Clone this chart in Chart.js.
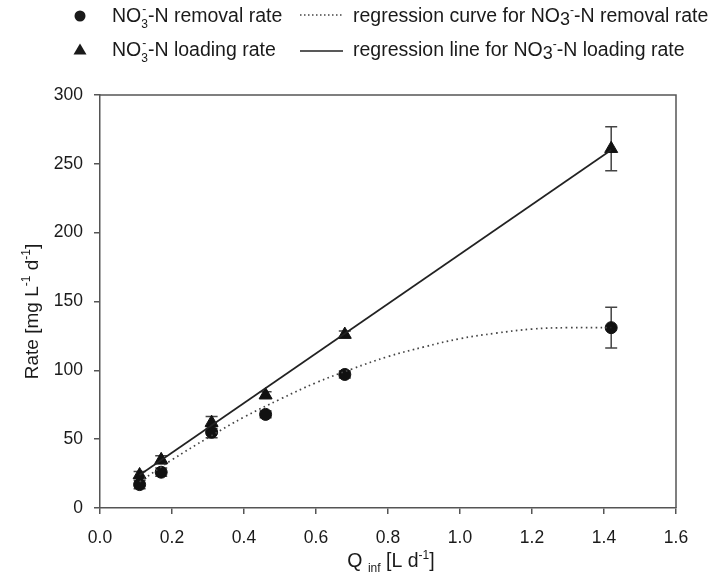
<!DOCTYPE html>
<html>
<head>
<meta charset="utf-8">
<script src="https://cdn.jsdelivr.net/npm/chart.js@4.4.1/dist/chart.umd.min.js"></script>
<style>
  html, body { margin: 0; padding: 0; background: #fff; }
  #wrap { width: 715px; height: 577px; }
</style>
</head>
<body>
<div id="wrap"><canvas id="chart" width="715" height="577"></canvas></div>
<script>
// flow rates [L d-1]
const flowRates = [0.11, 0.17, 0.31, 0.46, 0.68, 1.42];
// NO3--N removal rate and its error
const removalRate = [17, 26, 55, 68, 97, 131];
const removalErr = [3, 3, 4, 2.5, 2.5, 14.8];
// NO3--N loading rate and its error
const loadingRate = [24, 35, 62, 82, 126, 261];
const loadingErr = [2.5, 3, 4.5, 2.5, 2.5, 16];
// regression line (loading), end points
const lineX = [0.11, 1.42];
const lineY = [24, 260];
// regression curve (removal)
const curveX = [0.11, 0.2, 0.3, 0.4, 0.5, 0.6, 0.7, 0.8, 0.9, 1.0, 1.1, 1.2, 1.3, 1.42];
const curveY = [19, 35, 51, 66, 79, 91, 101, 110, 117, 123, 127, 130, 131, 131];

const xTicks = [0, 0.2, 0.4, 0.6, 0.8, 1.0, 1.2, 1.4, 1.6];

const FONT = '"Liberation Sans", Arial, sans-serif';
const INK = '#1a1a1a';
const AXIS = '#555';

const pts = (xs, ys) => xs.map((x, i) => ({ x, y: ys[i] }));

// draw text with sub/superscripts, parts = [[text, kind]]
function drawRich(ctx, parts, x, y, size, measureOnly) {
  let cx = x;
  const small = Math.round(size * 0.62);
  parts.forEach(([t, kind, t2]) => {
    if (kind === 'sub') {
      ctx.font = small + 'px ' + FONT;
      if (!measureOnly) ctx.fillText(t, cx, y + size * 0.28);
      cx += ctx.measureText(t).width;
    } else if (kind === 'sup') {
      ctx.font = small + 'px ' + FONT;
      if (!measureOnly) ctx.fillText(t, cx, y - size * 0.42);
      cx += ctx.measureText(t).width;
    } else if (kind === 'stack') {
      ctx.font = small + 'px ' + FONT;
      if (!measureOnly) {
        ctx.fillText(t, cx, y + size * 0.3);
        ctx.fillText(t2, cx + 1, y - size * 0.45);
      }
      cx += Math.max(ctx.measureText(t).width, ctx.measureText(t2).width);
    } else if (kind === 'low') {
      ctx.font = Math.round(size * 0.9) + 'px ' + FONT;
      if (!measureOnly) ctx.fillText(t, cx, y + size * 0.15);
      cx += ctx.measureText(t).width;
    } else {
      ctx.font = size + 'px ' + FONT;
      if (!measureOnly) ctx.fillText(t, cx, y);
      cx += ctx.measureText(t).width;
    }
  });
  return cx - x;
}

const errorBars = {
  id: 'errorBars',
  beforeDatasetsDraw(chart) {
    const { ctx, scales: { x, y } } = chart;
    ctx.save();
    ctx.strokeStyle = '#444';
    ctx.lineWidth = 1.5;
    chart.data.datasets.forEach(ds => {
      if (!ds.errors) return;
      ds.data.forEach((p, i) => {
        const px = x.getPixelForValue(p.x);
        const top = y.getPixelForValue(p.y + ds.errors[i]);
        const bot = y.getPixelForValue(p.y - ds.errors[i]);
        ctx.beginPath();
        ctx.moveTo(px, top); ctx.lineTo(px, bot);
        ctx.moveTo(px - 6, top); ctx.lineTo(px + 6, top);
        ctx.moveTo(px - 6, bot); ctx.lineTo(px + 6, bot);
        ctx.stroke();
      });
    });
    ctx.restore();
  }
};

const decorations = {
  id: 'decorations',
  afterDraw(chart) {
    const { ctx, chartArea: a } = chart;
    ctx.save();
    // top and right frame
    ctx.strokeStyle = AXIS;
    ctx.lineWidth = 1.5;
    ctx.beginPath();
    ctx.moveTo(a.left, a.top); ctx.lineTo(a.right, a.top); ctx.lineTo(a.right, a.bottom);
    ctx.stroke();

    ctx.fillStyle = INK;
    ctx.textBaseline = 'alphabetic';
    ctx.textAlign = 'left';

    // legend
    ctx.beginPath(); ctx.arc(80, 16, 5.5, 0, Math.PI * 2); ctx.fill();
    ctx.beginPath(); ctx.moveTo(80, 43.5); ctx.lineTo(86.5, 54.5); ctx.lineTo(73.5, 54.5); ctx.closePath(); ctx.fill();

    drawRich(ctx, [['NO'], ['3', 'stack', '-'], ['-N removal rate']], 112, 22, 19.5);
    drawRich(ctx, [['NO'], ['3', 'stack', '-'], ['-N loading rate']], 112, 56, 19.5);
    drawRich(ctx, [['regression curve for NO'], ['3', 'low'], ['-', 'sup'], ['-N removal rate']], 353, 22, 19.5);
    drawRich(ctx, [['regression line for NO'], ['3', 'low'], ['-', 'sup'], ['-N loading rate']], 353, 56, 19.5);

    ctx.strokeStyle = '#444';
    ctx.lineWidth = 1.3;
    ctx.setLineDash([1.5, 2.5]);
    ctx.beginPath(); ctx.moveTo(300, 15); ctx.lineTo(343, 15); ctx.stroke();
    ctx.setLineDash([]);
    ctx.strokeStyle = '#222';
    ctx.beginPath(); ctx.moveTo(300, 51); ctx.lineTo(343, 51); ctx.stroke();

    // x axis title
    const xParts = [['Q '], ['inf', 'sub'], [' [L d'], ['-1', 'sup'], [']']];
    const xw = drawRich(ctx, xParts, 0, 0, 19.5, true);
    drawRich(ctx, xParts, (a.left + a.right) / 2 + 3 - xw / 2, 567, 19.5);

    // y axis title
    const yParts = [['Rate [mg L'], ['-1', 'sup'], [' d'], ['-1', 'sup'], [']']];
    const yw = drawRich(ctx, yParts, 0, 0, 19, true);
    ctx.translate(38, (a.top + a.bottom) / 2 + 10);
    ctx.rotate(-Math.PI / 2);
    drawRich(ctx, yParts, -yw / 2, 0, 19);
    ctx.restore();
  }
};

const axisStyle = {
  grid: { display: true, drawOnChartArea: false, drawTicks: true, tickLength: 6, color: AXIS, lineWidth: 1.5 },
  border: { display: true, color: AXIS, width: 1.5 }
};

new Chart(document.getElementById('chart'), {
  type: 'scatter',
  data: {
    datasets: [
      {
        label: 'regression curve',
        data: pts(curveX, curveY),
        showLine: true,
        tension: 0.4,
        borderColor: '#444',
        borderWidth: 1.7,
        borderDash: [1.6, 3.4],
        pointRadius: 0
      },
      {
        label: 'regression line',
        data: pts(lineX, lineY),
        showLine: true,
        borderColor: '#222',
        borderWidth: 1.7,
        pointRadius: 0
      },
      {
        label: 'removal rate',
        data: pts(flowRates, removalRate),
        errors: removalErr,
        pointStyle: 'circle',
        pointRadius: 6,
        backgroundColor: '#111',
        borderColor: '#111'
      },
      {
        label: 'loading rate',
        data: pts(flowRates, loadingRate),
        errors: loadingErr,
        pointStyle: 'triangle',
        pointRadius: 7.5,
        backgroundColor: '#111',
        borderColor: '#111'
      }
    ]
  },
  options: {
    responsive: false,
    animation: false,
    devicePixelRatio: 1,
    layout: { padding: { top: 95, right: 39, left: 0, bottom: 0 } },
    plugins: { legend: { display: false }, tooltip: { enabled: false } },
    scales: {
      x: {
        type: 'linear', min: 0, max: 1.6,
        afterBuildTicks: s => { s.ticks = xTicks.map(v => ({ value: v })); },
        afterFit: s => { s.height = 69; },
        ticks: { callback: v => v.toFixed(1), font: { size: 17.5, family: FONT }, color: INK, padding: 14, maxRotation: 0 },
        ...axisStyle
      },
      y: {
        min: 0, max: 300,
        afterFit: s => { s.width = 100; },
        ticks: { stepSize: 50, font: { size: 17.5, family: FONT }, color: INK, padding: 11 },
        ...axisStyle
      }
    }
  },
  plugins: [errorBars, decorations]
});
</script>
</body>
</html>
